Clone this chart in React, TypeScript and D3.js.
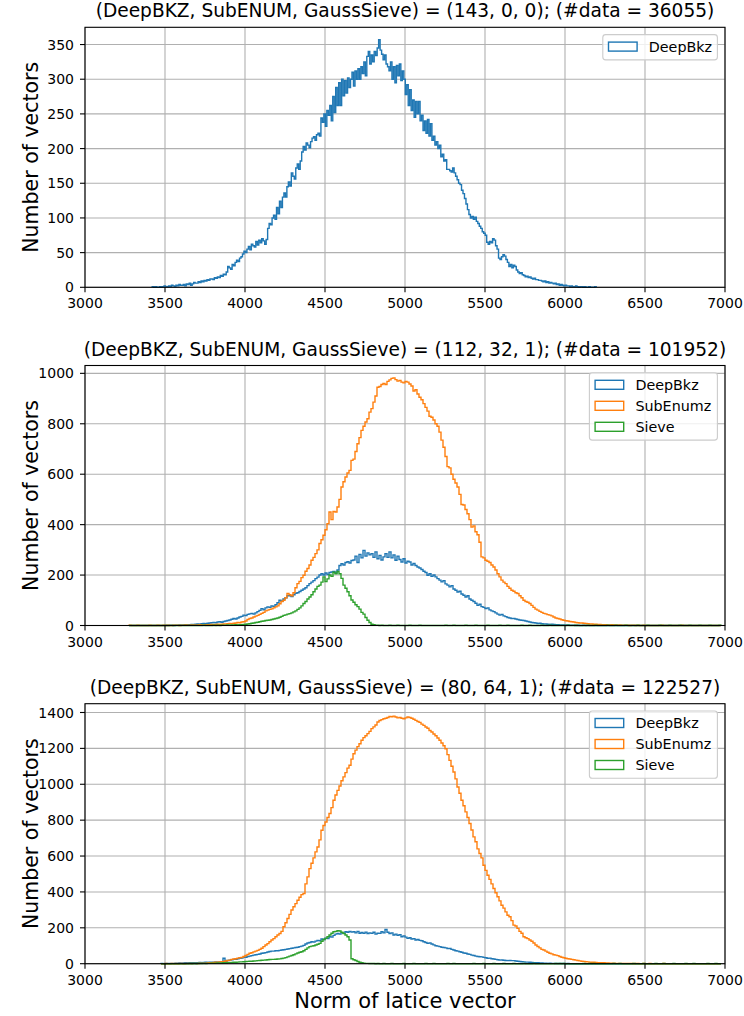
import React from 'react';
import * as d3 from 'd3';

// ---------------- DATA ----------------
const TITLES = [
  '(DeepBKZ, SubENUM, GaussSieve) = (143, 0, 0); (#data = 36055)',
  '(DeepBKZ, SubENUM, GaussSieve) = (112, 32, 1); (#data = 101952)',
  '(DeepBKZ, SubENUM, GaussSieve) = (80, 64, 1); (#data = 122527)',
];
const SERIES_NAMES = ['DeepBkz', 'SubEnumz', 'Sieve'];
const X_TICKS = [3000, 3500, 4000, 4500, 5000, 5500, 6000, 6500, 7000];
const P1_Y_TICKS = [0, 50, 100, 150, 200, 250, 300, 350];
const P2_Y_TICKS = [0, 200, 400, 600, 800, 1000];
const P3_Y_TICKS = [0, 200, 400, 600, 800, 1000, 1200, 1400];
const X_LABEL = 'Norm of latice vector';
const Y_LABEL = 'Number of vectors';

// panel 1 bins
const P1_BIN_START = 3420;
const P1_BIN_WIDTH = 9.25;
const P1_BIN_COUNT = 300;
const P1_DEEPBKZ = [
  1, 0, 1, 0, 0, 1, 0, 1, 2, 1,
  1, 2, 1, 3, 2, 1, 3, 2, 4, 3,
  3, 4, 2, 5, 4, 6, 3, 5, 7, 6,
  6, 8, 7, 9, 8, 10, 9, 11, 10, 12,
  12, 11, 14, 13, 15, 14, 17, 16, 19, 18,
  22, 30, 28, 26, 33, 31, 36, 39, 37, 42,
  44, 48, 52, 50, 55, 59, 54, 62, 60, 58,
  66, 61, 68, 64, 70, 67, 62, 69, 85, 92,
  90, 100, 104, 98, 115, 106, 124, 115, 130, 136,
  130, 145, 152, 146, 165, 160, 156, 172, 178, 170,
  182, 195, 203, 198, 208, 205, 201, 210, 215, 217,
  212, 220, 222, 218, 244, 238, 250, 232, 255, 248,
  262, 240, 275, 252, 288, 262, 295, 262, 300, 276,
  298, 280, 302, 288, 300, 310, 290, 312, 300, 315,
  300, 318, 308, 325, 305, 333, 340, 322, 335, 325,
  340, 334, 345, 357, 342, 336, 328, 335, 322, 318,
  312, 325, 300, 318, 295, 320, 305, 322, 298, 312,
  300, 278, 292, 262, 285, 255, 270, 245, 268, 250,
  268, 240, 248, 226, 240, 222, 242, 218, 236, 212,
  218, 205, 210, 200, 205, 188, 192, 182, 184, 170,
  170, 168, 166, 172, 165, 160, 155, 150, 148, 140,
  135, 128, 120, 112, 105, 100, 102, 98, 101, 95,
  92, 88, 85, 80, 78, 75, 65, 62, 66, 64,
  70, 68, 60, 55, 42, 40, 44, 47, 45, 40,
  36, 30, 33, 28, 32, 30, 25, 22, 20, 21,
  18, 17, 15, 16, 14, 15, 13, 12, 13, 11,
  11, 10, 10, 9, 8, 9, 7, 8, 6, 7,
  6, 5, 6, 4, 5, 3, 4, 3, 2, 3,
  2, 2, 1, 2, 1, 1, 2, 1, 0, 1,
  1, 0, 1, 0, 0, 1, 0, 0, 0, 1,
];

// panel 2 bins (shared by the three series)
const P2_BIN_START = 3275;
const P2_BIN_WIDTH = 12.5;
const P2_BIN_COUNT = 296;
const P2_DEEPBKZ = [
  0, 0, 0, 0, 0, 0, 0, 0,
  0, 0, 0, 0, 0, 0, 0, 0,
  0, 0, 1, 0, 1, 1, 0, 1,
  1, 2, 1, 2, 3, 2, 3, 4,
  4, 5, 6, 5, 7, 8, 7, 9,
  10, 11, 12, 11, 14, 15, 13, 16,
  18, 20, 22, 25, 28, 26, 30, 34,
  36, 41, 39, 44, 46, 48, 45, 50,
  55, 60, 67, 62, 70, 74, 72, 78,
  76, 82, 90, 100, 96, 105, 110, 118,
  118, 115, 122, 128, 130, 135, 140, 145,
  150, 158, 166, 172, 178, 186, 192, 200,
  205, 200, 208, 202, 210, 212, 214, 208,
  220, 238, 245, 240, 250, 253, 248, 258,
  260, 275, 250, 282, 268, 298, 275, 288,
  280, 285, 270, 292, 265, 278, 260, 272,
  285, 270, 292, 268, 280, 259, 275, 262,
  252, 265, 248, 255, 252, 240, 246, 238,
  232, 228, 222, 215, 210, 199, 205, 195,
  200, 193, 186, 180, 173, 178, 165, 160,
  153, 158, 145, 140, 133, 136, 125, 120,
  113, 118, 105, 100, 95, 88, 80, 84,
  75, 72, 67, 70, 62, 58, 55, 50,
  45, 41, 44, 38, 35, 32, 30, 28,
  28, 26, 24, 22, 21, 20, 18, 16,
  14, 12, 11, 10, 8, 9, 7, 6,
  6, 5, 4, 5, 4, 3, 3, 2,
  2, 2, 1, 2, 1, 1, 1, 0,
  1, 0, 0, 1, 0, 0, 0, 0,
];
const P2_SUBENUMZ = [
  1, 0, 0, 0, 1, 0, 0, 0,
  0, 0, 1, 0, 0, 0, 1, 0,
  0, 1, 0, 1, 0, 0, 1, 1,
  1, 0, 1, 1, 2, 1, 1, 2,
  2, 1, 2, 3, 2, 2, 3, 3,
  3, 4, 3, 4, 5, 4, 5, 6,
  6, 7, 8, 7, 9, 10, 12, 11,
  14, 15, 18, 24, 28, 30, 34, 37,
  40, 44, 48, 52, 58, 61, 64, 66,
  70, 74, 78, 86, 95, 100, 110, 127,
  122, 118, 130, 150, 166, 175, 190, 199,
  215, 226, 240, 259, 270, 285, 300, 325,
  340, 358, 380, 404, 450, 420, 452, 450,
  470, 500, 549, 570, 589, 605, 615, 655,
  660, 690, 721, 745, 774, 790, 807, 820,
  846, 860, 886, 910, 945, 948, 956, 960,
  956, 968, 974, 980, 982, 975, 969, 972,
  965, 962, 968, 965, 958, 950, 930, 935,
  918, 905, 895, 880, 865, 850, 830, 826,
  815, 800, 790, 767, 735, 707, 670, 630,
  625, 600, 580, 565, 549, 520, 480, 478,
  460, 443, 420, 390, 395, 372, 360, 330,
  272, 268, 259, 255, 250, 240, 232, 220,
  205, 193, 180, 172, 166, 155, 148, 140,
  136, 130, 127, 118, 110, 100, 95, 92,
  87, 80, 72, 65, 61, 56, 52, 48,
  46, 43, 41, 38, 34, 30, 28, 26,
  23, 21, 19, 18, 16, 15, 14, 12,
  11, 10, 10, 9, 8, 7, 6, 6,
  5, 5, 4, 4, 3, 3, 3, 2,
  2, 3, 2, 2, 1, 2, 1, 1,
  1, 1, 0, 1, 1, 0, 1, 0,
  0, 1, 0, 0, 0, 0, 0, 0,
  0, 0, 1, 0, 0, 0, 0, 0,
  0, 0, 0, 0, 1, 0, 0, 0,
];
const P2_SIEVE = [
  0, 0, 0, 0, 0, 0, 0, 0,
  0, 0, 0, 0, 0, 0, 0, 0,
  0, 0, 0, 0, 0, 0, 0, 0,
  0, 0, 0, 0, 0, 0, 0, 0,
  0, 0, 0, 0, 0, 1, 0, 0,
  0, 0, 1, 0, 1, 0, 1, 1,
  1, 2, 1, 2, 2, 3, 2, 3,
  3, 4, 5, 6, 7, 9, 10, 12,
  13, 15, 17, 18, 20, 21, 22, 24,
  26, 28, 30, 33, 36, 40, 42, 45,
  47, 50, 54, 58, 64, 70, 78, 87,
  95, 105, 113, 122, 134, 145, 155, 160,
  172, 193, 174, 185, 200, 195, 211, 205,
  214, 205, 187, 160, 148, 134, 118, 101,
  92, 82, 75, 65, 52, 45, 32, 21,
  12, 5, 3, 1, 1, 0, 1, 0,
  0, 0, 1, 0, 0, 0, 1, 0,
  0, 0, 0, 0, 1, 0, 0, 0,
  0, 1, 0, 0, 0, 0, 0, 0,
  0, 0, 0, 0, 0, 0, 1, 0,
  0, 0, 1, 0, 0, 0, 0, 0,
  1, 0, 0, 0, 0, 1, 0, 0,
  0, 0, 0, 1, 0, 0, 0, 0,
  0, 1, 0, 0, 0, 1, 0, 0,
  0, 0, 0, 0, 1, 0, 0, 0,
  1, 0, 0, 0, 0, 0, 1, 0,
  0, 0, 1, 0, 0, 0, 0, 0,
  0, 0, 0, 1, 0, 0, 0, 1,
  0, 0, 0, 0, 0, 1, 0, 0,
  0, 1, 0, 0, 0, 0, 0, 1,
  0, 0, 0, 1, 0, 0, 0, 0,
  1, 0, 0, 0, 0, 0, 1, 0,
  0, 0, 0, 1, 0, 0, 0, 0,
  0, 1, 0, 0, 0, 0, 1, 0,
  0, 0, 0, 1, 0, 0, 0, 0,
  1, 0, 0, 0, 0, 1, 0, 0,
  0, 0, 1, 0, 0, 0, 0, 1,
];

// panel 3 bins (shared by the three series)
const P3_BIN_START = 3475;
const P3_BIN_WIDTH = 12.5;
const P3_BIN_COUNT = 280;
const P3_DEEPBKZ = [
  1, 0, 1, 2, 1, 2, 2, 3,
  3, 4, 3, 4, 5, 4, 5, 5,
  6, 5, 6, 7, 6, 7, 8, 7,
  8, 9, 8, 10, 9, 10, 11, 30,
  14, 18, 20, 22, 24, 25, 28, 30,
  32, 35, 36, 40, 42, 45, 48, 50,
  52, 54, 58, 60, 62, 65, 68, 70,
  70, 72, 72, 74, 76, 78, 80, 82,
  84, 86, 88, 90, 92, 95, 98, 102,
  110, 115, 118, 122, 120, 126, 130, 128,
  138, 135, 142, 140, 150, 148, 158, 165,
  168, 165, 172, 170, 178, 175, 180, 176,
  178, 172, 180, 170, 174, 169, 176, 168,
  172, 169, 175, 165, 170, 169, 178, 172,
  191, 175, 168, 172, 160, 165, 158, 162,
  150, 155, 148, 141, 145, 138, 140, 132,
  135, 130, 128, 122, 118, 113, 116, 110,
  105, 100, 98, 95, 92, 90, 88, 85,
  85, 80, 76, 72, 70, 67, 64, 60,
  58, 54, 52, 48, 46, 42, 40, 39,
  38, 35, 33, 30, 31, 28, 26, 24,
  22, 20, 21, 19, 18, 17, 18, 17,
  17, 15, 14, 12, 11, 10, 9, 9,
  8, 7, 6, 5, 5, 4, 4, 3,
  3, 2, 3, 2, 2, 1, 2, 1,
  1, 1, 0, 1, 0, 0, 0, 0,
];
const P3_SUBENUMZ = [
  0, 0, 1, 0, 0, 1, 0, 1,
  0, 1, 1, 0, 1, 2, 1, 1,
  2, 2, 1, 3, 2, 3, 3, 4,
  5, 6, 7, 8, 9, 10, 11, 13,
  15, 18, 20, 24, 26, 28, 31, 33,
  35, 40, 46, 52, 58, 61, 66, 70,
  74, 80, 86, 95, 104, 112, 122, 132,
  140, 150, 160, 168, 180, 206, 228, 252,
  275, 299, 317, 335, 354, 370, 385, 391,
  445, 484, 530, 560, 590, 623, 650, 690,
  744, 770, 790, 815, 837, 870, 911, 940,
  966, 990, 1020, 1041, 1065, 1090, 1106, 1140,
  1170, 1190, 1210, 1226, 1245, 1260, 1270, 1282,
  1295, 1310, 1320, 1330, 1347, 1355, 1360, 1365,
  1368, 1372, 1378, 1376, 1380, 1375, 1370, 1372,
  1368, 1365, 1370, 1375, 1372, 1368, 1362, 1356,
  1350, 1345, 1335, 1328, 1319, 1312, 1300, 1291,
  1280, 1270, 1258, 1245, 1230, 1215, 1198, 1165,
  1133, 1100, 1068, 1030, 985, 950, 911, 880,
  846, 815, 781, 745, 707, 680, 640, 614,
  590, 549, 520, 493, 470, 445, 419, 395,
  373, 350, 326, 310, 289, 270, 262, 240,
  215, 210, 197, 180, 170, 150, 145, 140,
  132, 125, 115, 104, 96, 88, 80, 76,
  70, 64, 58, 55, 50, 48, 45, 40,
  36, 33, 30, 28, 26, 24, 22, 20,
  18, 16, 14, 13, 11, 10, 9, 8,
  8, 7, 6, 6, 5, 5, 4, 4,
  3, 3, 3, 2, 2, 2, 2, 1,
  2, 1, 1, 1, 0, 1, 1, 0,
  0, 1, 0, 0, 1, 0, 0, 0,
  0, 0, 0, 1, 0, 0, 0, 0,
];
const P3_SIEVE = [
  0, 0, 0, 0, 0, 0, 0, 0,
  0, 0, 0, 0, 0, 0, 1, 0,
  1, 0, 1, 1, 1, 2, 1, 2,
  2, 3, 2, 3, 4, 3, 4, 5,
  5, 6, 6, 7, 8, 8, 9, 10,
  10, 11, 12, 13, 14, 14, 15, 16,
  17, 18, 19, 20, 21, 22, 23, 24,
  24, 25, 26, 27, 29, 31, 34, 38,
  42, 46, 50, 55, 60, 64, 67, 72,
  80, 88, 95, 98, 100, 104, 108, 113,
  125, 135, 141, 150, 160, 170, 178, 180,
  184, 182, 175, 168, 160, 150, 132, 28,
  22, 18, 12, 8, 5, 3, 2, 2,
  1, 1, 1, 0, 1, 0, 0, 1,
  0, 0, 0, 1, 0, 0, 0, 0,
  0, 1, 0, 0, 0, 0, 1, 0,
  0, 0, 0, 0, 1, 0, 0, 0,
  1, 0, 0, 0, 0, 0, 0, 1,
  0, 0, 1, 0, 0, 0, 0, 0,
  0, 0, 0, 0, 1, 0, 0, 0,
  0, 1, 0, 0, 0, 0, 1, 0,
  0, 0, 0, 1, 0, 0, 0, 0,
  1, 0, 0, 0, 0, 1, 0, 0,
  0, 0, 1, 0, 0, 0, 0, 0,
  0, 0, 0, 0, 0, 1, 0, 1,
  0, 1, 0, 0, 0, 0, 0, 0,
  0, 0, 0, 1, 0, 0, 1, 0,
  1, 0, 0, 0, 0, 0, 0, 0,
  0, 0, 1, 0, 0, 1, 0, 0,
  0, 0, 0, 0, 1, 0, 0, 0,
  0, 1, 0, 0, 0, 0, 0, 1,
  0, 0, 0, 1, 0, 0, 0, 0,
  1, 0, 0, 0, 0, 0, 1, 0,
  0, 0, 1, 0, 0, 0, 0, 0,
  0, 1, 0, 0, 0, 1, 0, 0,
];

// ---------------- STYLE / LAYOUT ----------------
const COLORS = ['#1f77b4', '#ff7f0e', '#2ca02c'];
const FONT = '"DejaVu Sans", Verdana, sans-serif';
const W = 744;
const H = 1016;
const AX_LEFT = 85;
const AX_RIGHT = 725;
const AX_H = 260;
const AX_TOPS = [27.3, 365.5, 703.7];

type Series = { name: string; values: number[]; color: string };
type PanelCfg = {
  title: string;
  start: number;
  width: number;
  count: number;
  series: Series[];
  yTicks: number[];
  legendW: number;
};

const PANELS: PanelCfg[] = [
  {
    title: TITLES[0],
    start: P1_BIN_START,
    width: P1_BIN_WIDTH,
    count: P1_BIN_COUNT,
    series: [{ name: SERIES_NAMES[0], values: P1_DEEPBKZ, color: COLORS[0] }],
    yTicks: P1_Y_TICKS,
    legendW: 114.6,
  },
  {
    title: TITLES[1],
    start: P2_BIN_START,
    width: P2_BIN_WIDTH,
    count: P2_BIN_COUNT,
    series: [
      { name: SERIES_NAMES[0], values: P2_DEEPBKZ, color: COLORS[0] },
      { name: SERIES_NAMES[1], values: P2_SUBENUMZ, color: COLORS[1] },
      { name: SERIES_NAMES[2], values: P2_SIEVE, color: COLORS[2] },
    ],
    yTicks: P2_Y_TICKS,
    legendW: 128,
  },
  {
    title: TITLES[2],
    start: P3_BIN_START,
    width: P3_BIN_WIDTH,
    count: P3_BIN_COUNT,
    series: [
      { name: SERIES_NAMES[0], values: P3_DEEPBKZ, color: COLORS[0] },
      { name: SERIES_NAMES[1], values: P3_SUBENUMZ, color: COLORS[1] },
      { name: SERIES_NAMES[2], values: P3_SIEVE, color: COLORS[2] },
    ],
    yTicks: P3_Y_TICKS,
    legendW: 128,
  },
];

function Panel({ cfg, top, showXLabel }: { cfg: PanelCfg; top: number; showXLabel: boolean }) {
  const bottom = top + AX_H;
  const x = d3.scaleLinear().domain([3000, 7000]).range([AX_LEFT, AX_RIGHT]);
  const allMax = d3.max(cfg.series, (s) => d3.max(s.values) as number) as number;
  const y = d3.scaleLinear().domain([0, allMax * 1.05]).range([bottom, top]);

  const line = d3
    .line<[number, number]>()
    .x((d) => x(d[0]))
    .y((d) => y(d[1]))
    .curve(d3.curveStepAfter);

  const paths = cfg.series.map((s) => {
    const pts: [number, number][] = [[cfg.start, 0]];
    for (let i = 0; i < cfg.count; i++) {
      pts.push([cfg.start + i * cfg.width, s.values[i] ?? 0]);
    }
    const lastV = s.values[cfg.count - 1] ?? 0;
    const end = cfg.start + cfg.count * cfg.width;
    pts.push([end, lastV]);
    pts.push([end, 0]);
    return { d: line(pts) as string, color: s.color, name: s.name };
  });

  const legendRight = AX_RIGHT - 7.6;
  const legendX = legendRight - cfg.legendW;
  const legendY = top + 7.3;
  const rowH = 21;
  const legendH = 25.3 + (cfg.series.length - 1) * rowH;
  const cx = (AX_LEFT + AX_RIGHT) / 2;
  const cy = (top + bottom) / 2;

  return (
    <g>
      <text x={cx} y={top - 10} textAnchor="middle" fontSize={18.6} fontFamily={FONT} fill="#000">
        {cfg.title}
      </text>
      <g stroke="#b0b0b0" strokeWidth={1.1}>
        {X_TICKS.map((t) => (
          <line key={'gx' + t} x1={x(t)} x2={x(t)} y1={top} y2={bottom} />
        ))}
        {cfg.yTicks.map((t) => (
          <line key={'gy' + t} x1={AX_LEFT} x2={AX_RIGHT} y1={y(t)} y2={y(t)} />
        ))}
      </g>
      <g fill="none" strokeWidth={1.4} strokeLinejoin="miter">
        {paths.map((p) => (
          <path key={p.name} d={p.d} stroke={p.color} />
        ))}
      </g>
      <rect x={AX_LEFT} y={top} width={AX_RIGHT - AX_LEFT} height={AX_H} fill="none" stroke="#000" strokeWidth={1.1} />
      <g>
        {X_TICKS.map((t) => (
          <g key={'xt' + t}>
            <line x1={x(t)} x2={x(t)} y1={bottom} y2={bottom + 5} stroke="#000" strokeWidth={1.1} />
            <text x={x(t)} y={bottom + 21} textAnchor="middle" fontSize={14} fontFamily={FONT} fill="#000">
              {t}
            </text>
          </g>
        ))}
      </g>
      <g>
        {cfg.yTicks.map((t) => (
          <g key={'yt' + t}>
            <line x1={AX_LEFT - 5} x2={AX_LEFT} y1={y(t)} y2={y(t)} stroke="#000" strokeWidth={1.1} />
            <text x={AX_LEFT - 11} y={y(t) + 5.1} textAnchor="end" fontSize={14} fontFamily={FONT} fill="#000">
              {t}
            </text>
          </g>
        ))}
      </g>
      <text
        transform={`translate(38,${cy}) rotate(-90)`}
        textAnchor="middle"
        fontSize={20.5}
        fontFamily={FONT}
        fill="#000"
      >
        {Y_LABEL}
      </text>
      {showXLabel && (
        <text x={cx} y={bottom + 44.6} textAnchor="middle" fontSize={21} fontFamily={FONT} fill="#000">
          {X_LABEL}
        </text>
      )}
      <g>
        <rect
          x={legendX}
          y={legendY}
          width={cfg.legendW}
          height={legendH}
          rx={2.9}
          ry={2.9}
          fill="#fff"
          fillOpacity={0.8}
          stroke="#cccccc"
          strokeWidth={1.1}
        />
        {cfg.series.map((s, i) => {
          const rc = legendY + 12 + i * rowH;
          return (
            <g key={'lg' + s.name}>
              <rect x={legendX + 5.7} y={rc - 4.5} width={28.6} height={9} fill="#fff" stroke={s.color} strokeWidth={1.4} />
              <text x={legendX + 46} y={rc + 5.1} fontSize={14.3} fontFamily={FONT} fill="#000">
                {s.name}
              </text>
            </g>
          );
        })}
      </g>
    </g>
  );
}

export default function App() {
  return (
    <svg
      width={W}
      height={H}
      viewBox={`0 0 ${W} ${H}`}
      style={{ position: 'absolute', left: 0, top: 0, background: '#fff' }}
    >
      <rect x={0} y={0} width={W} height={H} fill="#fff" />
      {PANELS.map((p, i) => (
        <Panel key={i} cfg={p} top={AX_TOPS[i]} showXLabel={i === PANELS.length - 1} />
      ))}
    </svg>
  );
}
